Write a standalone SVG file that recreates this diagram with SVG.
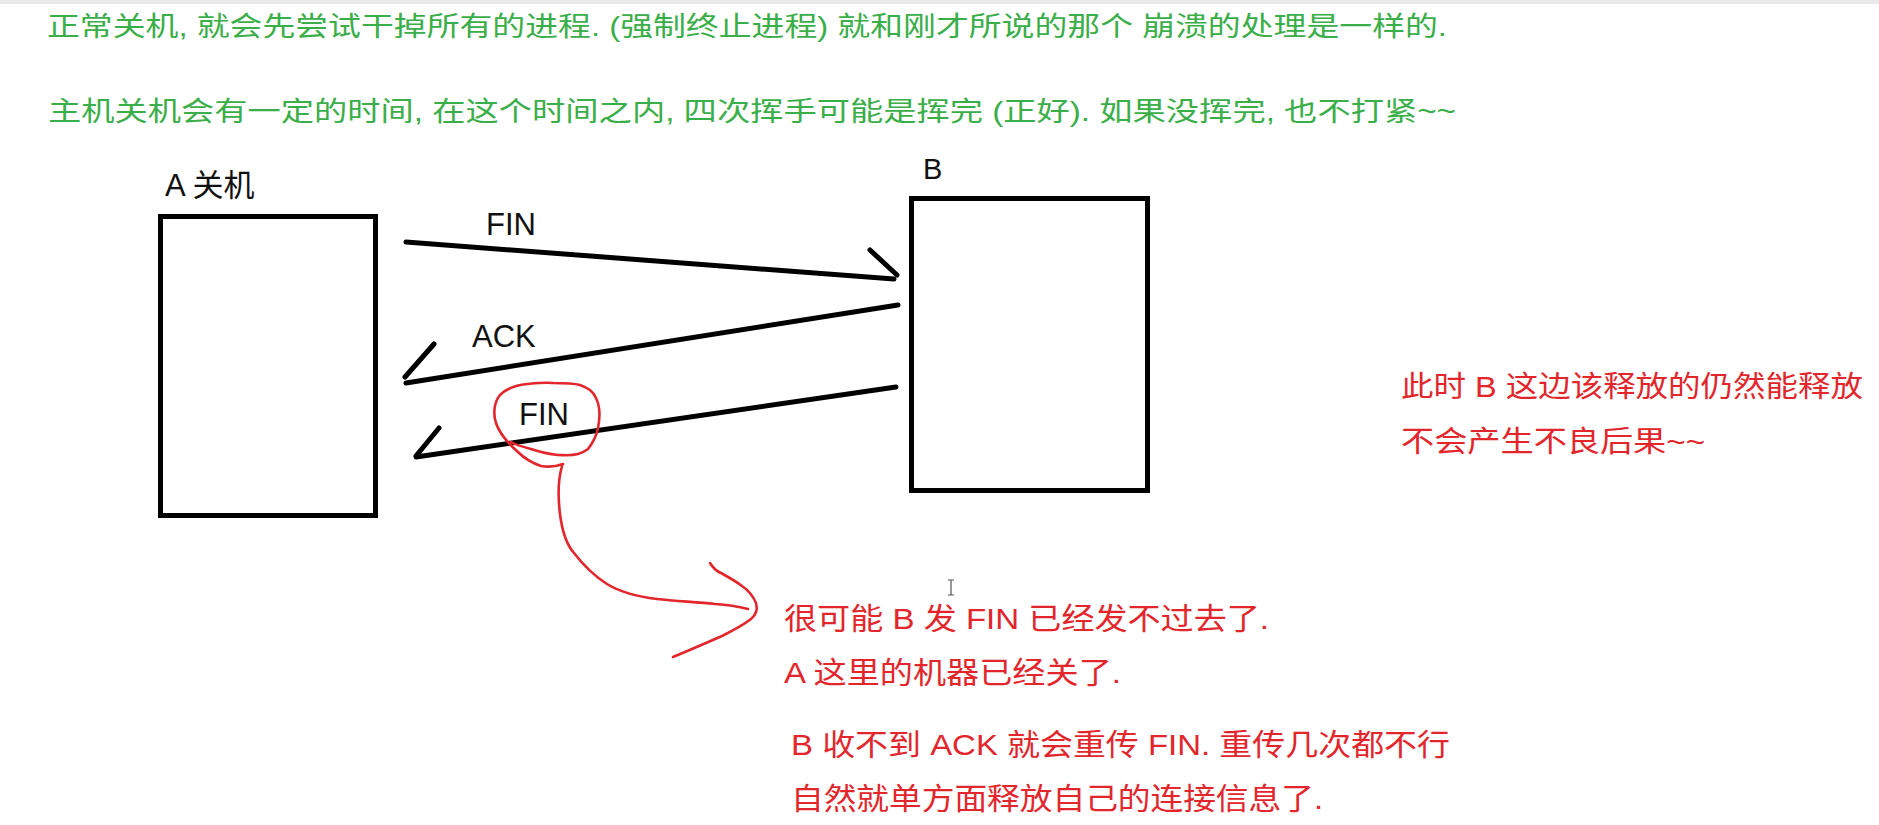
<svg xmlns="http://www.w3.org/2000/svg" width="1879" height="825" viewBox="0 0 1879 825">
<defs>
<style>
.green{fill:#3aae48;font-family:"Liberation Sans","Noto Sans CJK SC",sans-serif;font-size:27px}
.red{fill:#e2262c;font-family:"Liberation Sans","Noto Sans CJK SC",sans-serif;font-size:30px}
.lbl{fill:#111;font-family:"Liberation Sans","Noto Sans CJK SC",sans-serif;font-size:31px}
.box{fill:#fff;stroke:#000;stroke-width:5}
.ink{fill:none;stroke:#000;stroke-width:5;stroke-linecap:round;stroke-linejoin:round}
.pen{fill:none;stroke:#e3262c;stroke-width:2.6;stroke-linecap:round;stroke-linejoin:round}
</style>
</defs>
<rect x="0" y="0" width="1879" height="825" fill="#fff"/>
<rect x="0" y="0" width="1879" height="4" fill="#e9e9e9"/>

<g id="notes-top">
<text class="green" x="47" y="36" textLength="1400" lengthAdjust="spacingAndGlyphs">正常关机, 就会先尝试干掉所有的进程. (强制终止进程) 就和刚才所说的那个 崩溃的处理是一样的.</text>
<text class="green" x="48" y="121" textLength="1408" lengthAdjust="spacingAndGlyphs">主机关机会有一定的时间, 在这个时间之内, 四次挥手可能是挥完 (正好). 如果没挥完, 也不打紧~~</text>
</g>

<g id="node-A">
<rect class="box" x="160.5" y="216.5" width="215" height="299"/>
<text class="lbl" x="165" y="196">A 关机</text>
</g>

<g id="node-B">
<rect class="box" x="911.5" y="198.5" width="236" height="292"/>
<text class="lbl" x="923" y="179" style="font-size:29px">B</text>
</g>

<g id="connectors">
<path class="ink" d="M406,242 L894,279 M870,250 L897,275"/>
<path class="ink" d="M898,305 L406,383 M434,344 L405,377"/>
<path class="ink" d="M896,387 L416,457 M439,428 L416,456"/>
<text class="lbl" x="486" y="235">FIN</text>
<text class="lbl" x="472" y="347">ACK</text>
<text class="lbl" x="519" y="425">FIN</text>
</g>

<g id="annotation-circle">
<path class="pen" d="M563,464 C555,467 547,467 541,466 C532,463 525,459 518,452 C510,445 500,435 496,423 C493,414 494,402 500,395 C507,388 517,385 527,384 C537,383 545,382 553,383 C563,383 573,383 580,385 C588,388 593,391 596,398 C600,406 600,418 598,428 C596,438 592,444 588,449 C584,452 582,453 578,454 C570,456 566,455 558,455 C548,454 540,452 531,449 C523,447 516,445 511,442"/>
<path class="pen" d="M562,466 C558,480 558,498 560,514 C562,530 566,544 574,553 C584,566 596,577 607,584 C620,592 640,597 657,599 C675,601 695,602 715,604 C730,605 740,607 748,609"/>
<path class="pen" d="M710,563 C713,568 716,571 721,573 C730,578 737,582 742,586 C748,590 753,596 756,603 C758,610 756,615 751,619 C742,626 734,630 722,636 C706,643 690,650 673,657"/>
</g>

<g id="notes-red">
<text class="red" x="784" y="629" textLength="485" lengthAdjust="spacingAndGlyphs">很可能 B 发 FIN 已经发不过去了.</text>
<text class="red" x="784" y="683" textLength="337" lengthAdjust="spacingAndGlyphs">A 这里的机器已经关了.</text>
<text class="red" x="791" y="755" textLength="659" lengthAdjust="spacingAndGlyphs">B 收不到 ACK 就会重传 FIN. 重传几次都不行</text>
<text class="red" x="791" y="809" textLength="532" lengthAdjust="spacingAndGlyphs">自然就单方面释放自己的连接信息了.</text>
<text class="red" x="1401" y="397" textLength="462" lengthAdjust="spacingAndGlyphs" style="font-size:29px">此时 B 这边该释放的仍然能释放</text>
<text class="red" x="1401" y="452" textLength="304" lengthAdjust="spacingAndGlyphs" style="font-size:29px">不会产生不良后果~~</text>
</g>

<g id="cursor">
<path d="M948,580 L954,580 M951,580 L951,595 M948,595 L954,595" fill="none" stroke="#555" stroke-width="1.2"/>
</g>
</svg>
